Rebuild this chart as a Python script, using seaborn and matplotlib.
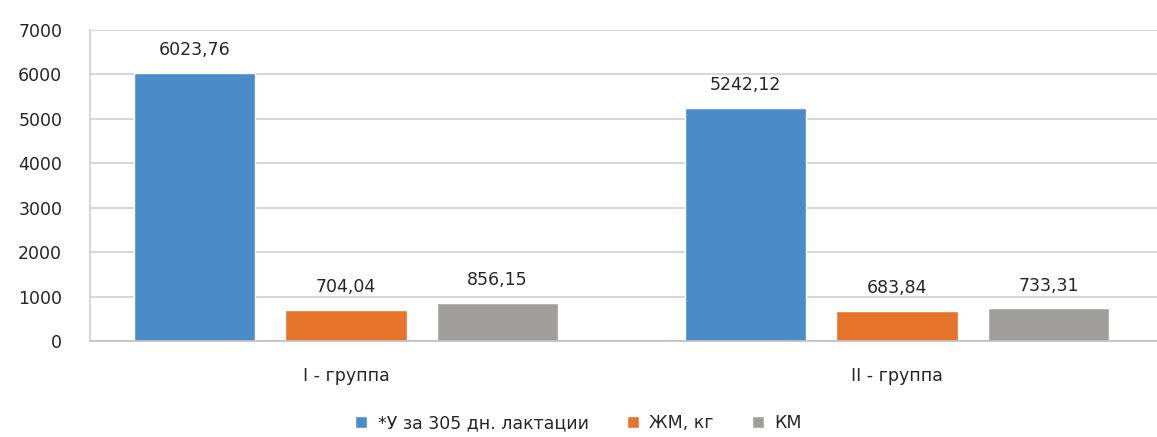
import matplotlib
matplotlib.use("Agg")
import matplotlib.pyplot as plt
import seaborn as sns
import pandas as pd

# Milk productivity by group
groups = ["I - группа", "II - группа"]
series = ["*У за 305 дн. лактации", "ЖМ, кг", "КМ"]
milk_yield = [6023.76, 5242.12]
fat_kg = [704.04, 683.84]
km = [856.15, 733.31]
y_ticks = [0, 1000, 2000, 3000, 4000, 5000, 6000, 7000]

colors = ["#4B8CC8", "#E6742A", "#A09E9C"]

rows = []
for name, vals in zip(series, [milk_yield, fat_kg, km]):
    for g, v in zip(groups, vals):
        rows.append({"group": g, "series": name, "value": v})
df = pd.DataFrame(rows)

sns.set_theme(style="white")
plt.rcParams["font.family"] = ["DejaVu Sans"]

fig = plt.figure(figsize=(11.57, 4.37), dpi=100)
ax = fig.add_axes([90 / 1157, 96 / 437, (1157 - 90) / 1157, 311 / 437])

sns.barplot(data=df, x="group", y="value", hue="series", order=groups,
            hue_order=series, palette=colors, width=0.825, gap=0.2,
            saturation=1, ax=ax, legend=True)

for container in ax.containers:
    ax.bar_label(container,
                 labels=[f"{v:.2f}".replace(".", ",") for v in container.datavalues],
                 padding=10, fontsize=12.5, color="#262626")

ax.set_ylim(0, 7000)
ax.set_xlim(-0.4646, 1.472)
ax.set_yticks(y_ticks)
ax.set_yticklabels([str(t) for t in y_ticks])
ax.yaxis.grid(True, color="#CFCFCF", linewidth=1.2)
ax.set_axisbelow(True)
ax.tick_params(axis="y", length=0, pad=20, labelsize=12.5, labelcolor="#262626")
ax.tick_params(axis="x", length=0, pad=19, labelsize=12.5, labelcolor="#262626")
ax.set_xlabel("")
ax.set_ylabel("")

for side in ["top", "right"]:
    ax.spines[side].set_visible(False)
ax.spines["left"].set_color("#CFCFCF")
ax.spines["left"].set_linewidth(1.2)
ax.spines["bottom"].set_color("#BFBFBF")
ax.spines["bottom"].set_linewidth(1.2)

handles, labels = ax.get_legend_handles_labels()
ax.legend_.remove()
fig.legend(handles, labels, loc="lower center", bbox_to_anchor=(0.5, -0.025),
           ncol=3, frameon=False, fontsize=12.5, handlelength=0.7,
           handleheight=0.7, handletextpad=0.6, columnspacing=2.2,
           labelcolor="#262626")

fig.savefig("out.png", dpi=100, facecolor="white")
